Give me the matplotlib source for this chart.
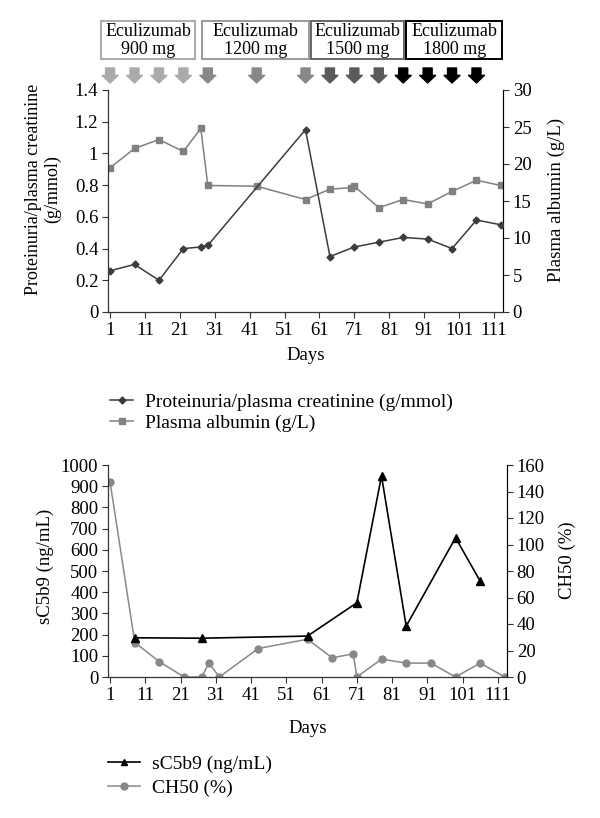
import matplotlib
matplotlib.use("Agg")
import matplotlib.pyplot as plt
from matplotlib.patches import Rectangle
from matplotlib.lines import Line2D
from matplotlib.transforms import blended_transform_factory

plt.rcParams['font.family'] = ['Liberation Serif', 'DejaVu Serif']
plt.rcParams['font.size'] = 13.5

# top panel
prot_days = [1, 8, 15, 22, 27, 29, 57, 64, 71, 78, 85, 92, 99, 106, 113]
prot_vals = [0.26, 0.30, 0.20, 0.40, 0.41, 0.42, 1.15, 0.35, 0.41, 0.44, 0.47, 0.46, 0.40, 0.58, 0.55]
alb_days = [1, 8, 15, 22, 27, 29, 43, 57, 64, 70, 71, 78, 85, 92, 99, 106, 113]
alb_vals = [19.5, 22.1, 23.3, 21.7, 24.8, 17.1, 17.0, 15.2, 16.6, 16.8, 17.0, 14.1, 15.2, 14.6, 16.3, 17.8, 17.1]

# bottom panel
sc_days = [8, 27, 57, 71, 78, 85, 99, 106]
sc_vals = [185, 183, 193, 350, 948, 240, 657, 452]
ch_days = [1, 8, 15, 22, 27, 29, 32, 43, 57, 64, 70, 71, 78, 85, 92, 99, 106, 113]
ch_vals = [147, 26, 11.5, 0, 0, 10.5, 0, 21.5, 28.5, 14.5, 17.5, 0, 13.5, 10.5, 10.5, 0, 10.5, 0]

# dosing
dose_days = [1, 8, 15, 22, 29, 43, 57, 64, 71, 78, 85, 92, 99, 106]
dose_colors = ['#aaaaaa'] * 4 + ['#888888'] * 3 + ['#5a5a5a'] * 3 + ['#000000'] * 4
dose_labels = ['Eculizumab\n900 mg', 'Eculizumab\n1200 mg', 'Eculizumab\n1500 mg', 'Eculizumab\n1800 mg']
box_edges = [(-1.5, 25.3), (27.3, 58.1), (58.7, 85.3), (85.9, 113.3)]
box_colors = ['#aaaaaa', '#999999', '#666666', '#000000']

xticks = list(range(1, 112, 10))

W, H = 600, 818
fig = plt.figure(figsize=(W / 100, H / 100), dpi=100)


def style(ax, axr):
    ax.spines['top'].set_visible(False)
    axr.spines['top'].set_visible(False)
    for sp in ['left', 'bottom']:
        ax.spines[sp].set_color('#333333')
    axr.spines['right'].set_color('#333333')
    ax.tick_params(direction='out', length=4, color='#333333', pad=3)
    axr.tick_params(direction='out', length=4, color='#333333', pad=3)
    ax.set_xticks(xticks)
    ax.set_xlim(0.4, 113.6)


def ylab(x, y, s, **kw):
    fig.text(x / W, 1 - y / H, s, rotation=90, ha='center', va='center', **kw)


# ---- top chart
ax1 = fig.add_axes([108 / W, 1 - 312 / H, 395 / W, 222 / H])
ax1r = ax1.twinx()
ax1.plot(prot_days, prot_vals, color='#3c3c3c', marker='D', markersize=3.5, lw=1.1, zorder=3)
ax1r.plot(alb_days, alb_vals, color='#808080', marker='s', markersize=5, lw=1.1)
ax1.set_zorder(ax1r.get_zorder() + 1)
ax1.patch.set_visible(False)
ax1.set_ylim(0, 1.4)
ax1.set_yticks([0, 0.2, 0.4, 0.6, 0.8, 1.0, 1.2, 1.4])
ax1.set_yticklabels(['0', '0.2', '0.4', '0.6', '0.8', '1', '1.2', '1.4'])
ax1r.set_ylim(0, 30)
ax1r.set_yticks(range(0, 31, 5))
style(ax1, ax1r)
ax1.set_xlabel('Days', labelpad=6)
ylab(43, 189, 'Proteinuria/plasma creatinine\n(g/mmol)', fontsize=13, linespacing=1.15)
ylab(556, 200, 'Plasma albumin (g/L)', fontsize=13.5)

# arrows and dose boxes
trans = blended_transform_factory(ax1.transData, fig.transFigure)
for d, c in zip(dose_days, dose_colors):
    ax1.annotate('', xy=(d, 1 - 83 / H), xytext=(d, 1 - 68 / H),
                 xycoords=trans, textcoords=trans,
                 arrowprops=dict(arrowstyle='simple,head_length=0.55,head_width=1.15,tail_width=0.65',
                                 mutation_scale=10, color=c, shrinkA=0, shrinkB=0))
for (x0, x1), lab, c in zip(box_edges, dose_labels, box_colors):
    r = Rectangle((x0, 1 - 59 / H), x1 - x0, 38 / H, transform=trans, fill=False,
                  edgecolor=c, lw=1.4, clip_on=False)
    fig.add_artist(r)
    ax1.text((x0 + x1) / 2, 1 - 40.5 / H, lab, transform=trans, ha='center', va='center',
             fontsize=13, linespacing=1.0, clip_on=False)

handles = [Line2D([], [], color='#3c3c3c', marker='D', markersize=3.5, lw=1.1),
           Line2D([], [], color='#808080', marker='s', markersize=5, lw=1.1)]
fig.legend(handles, ['Proteinuria/plasma creatinine (g/mmol)', 'Plasma albumin (g/L)'],
           loc='upper left', bbox_to_anchor=(110 / W, 1 - 393 / H), frameon=False,
           borderpad=0, borderaxespad=0,
           handlelength=1.2, handletextpad=0.6, labelspacing=0.17, fontsize=14)

# ---- bottom chart
ax2 = fig.add_axes([108 / W, 1 - 677 / H, 399 / W, 212 / H])
ax2r = ax2.twinx()
ax2.plot(sc_days, sc_vals, color='#000000', marker='^', markersize=6, lw=1.2, zorder=3)
ax2r.plot(ch_days, ch_vals, color='#888888', marker='o', markersize=5, lw=1.1)
ax2.set_zorder(ax2r.get_zorder() + 1)
ax2.patch.set_visible(False)
ax2.set_ylim(0, 1000)
ax2.set_yticks(range(0, 1001, 100))
ax2r.set_ylim(0, 160)
ax2r.set_yticks(range(0, 161, 20))
style(ax2, ax2r)
ax2.set_xlabel('Days', labelpad=12)
ylab(45, 566, 'sC5b9 (ng/mL)', fontsize=13.5)
ylab(567, 560, 'CH50 (%)', fontsize=13.5)

handles = [Line2D([], [], color='#000000', marker='^', markersize=5, lw=1.2),
           Line2D([], [], color='#888888', marker='o', markersize=5, lw=1.1)]
fig.legend(handles, ['sC5b9 (ng/mL)', 'CH50 (%)'],
           loc='upper left', bbox_to_anchor=(108 / W, 1 - 755 / H), frameon=False,
           borderpad=0, borderaxespad=0,
           handlelength=1.65, handletextpad=0.6, labelspacing=0.35, fontsize=14)

fig.savefig('out.png', dpi=100)
